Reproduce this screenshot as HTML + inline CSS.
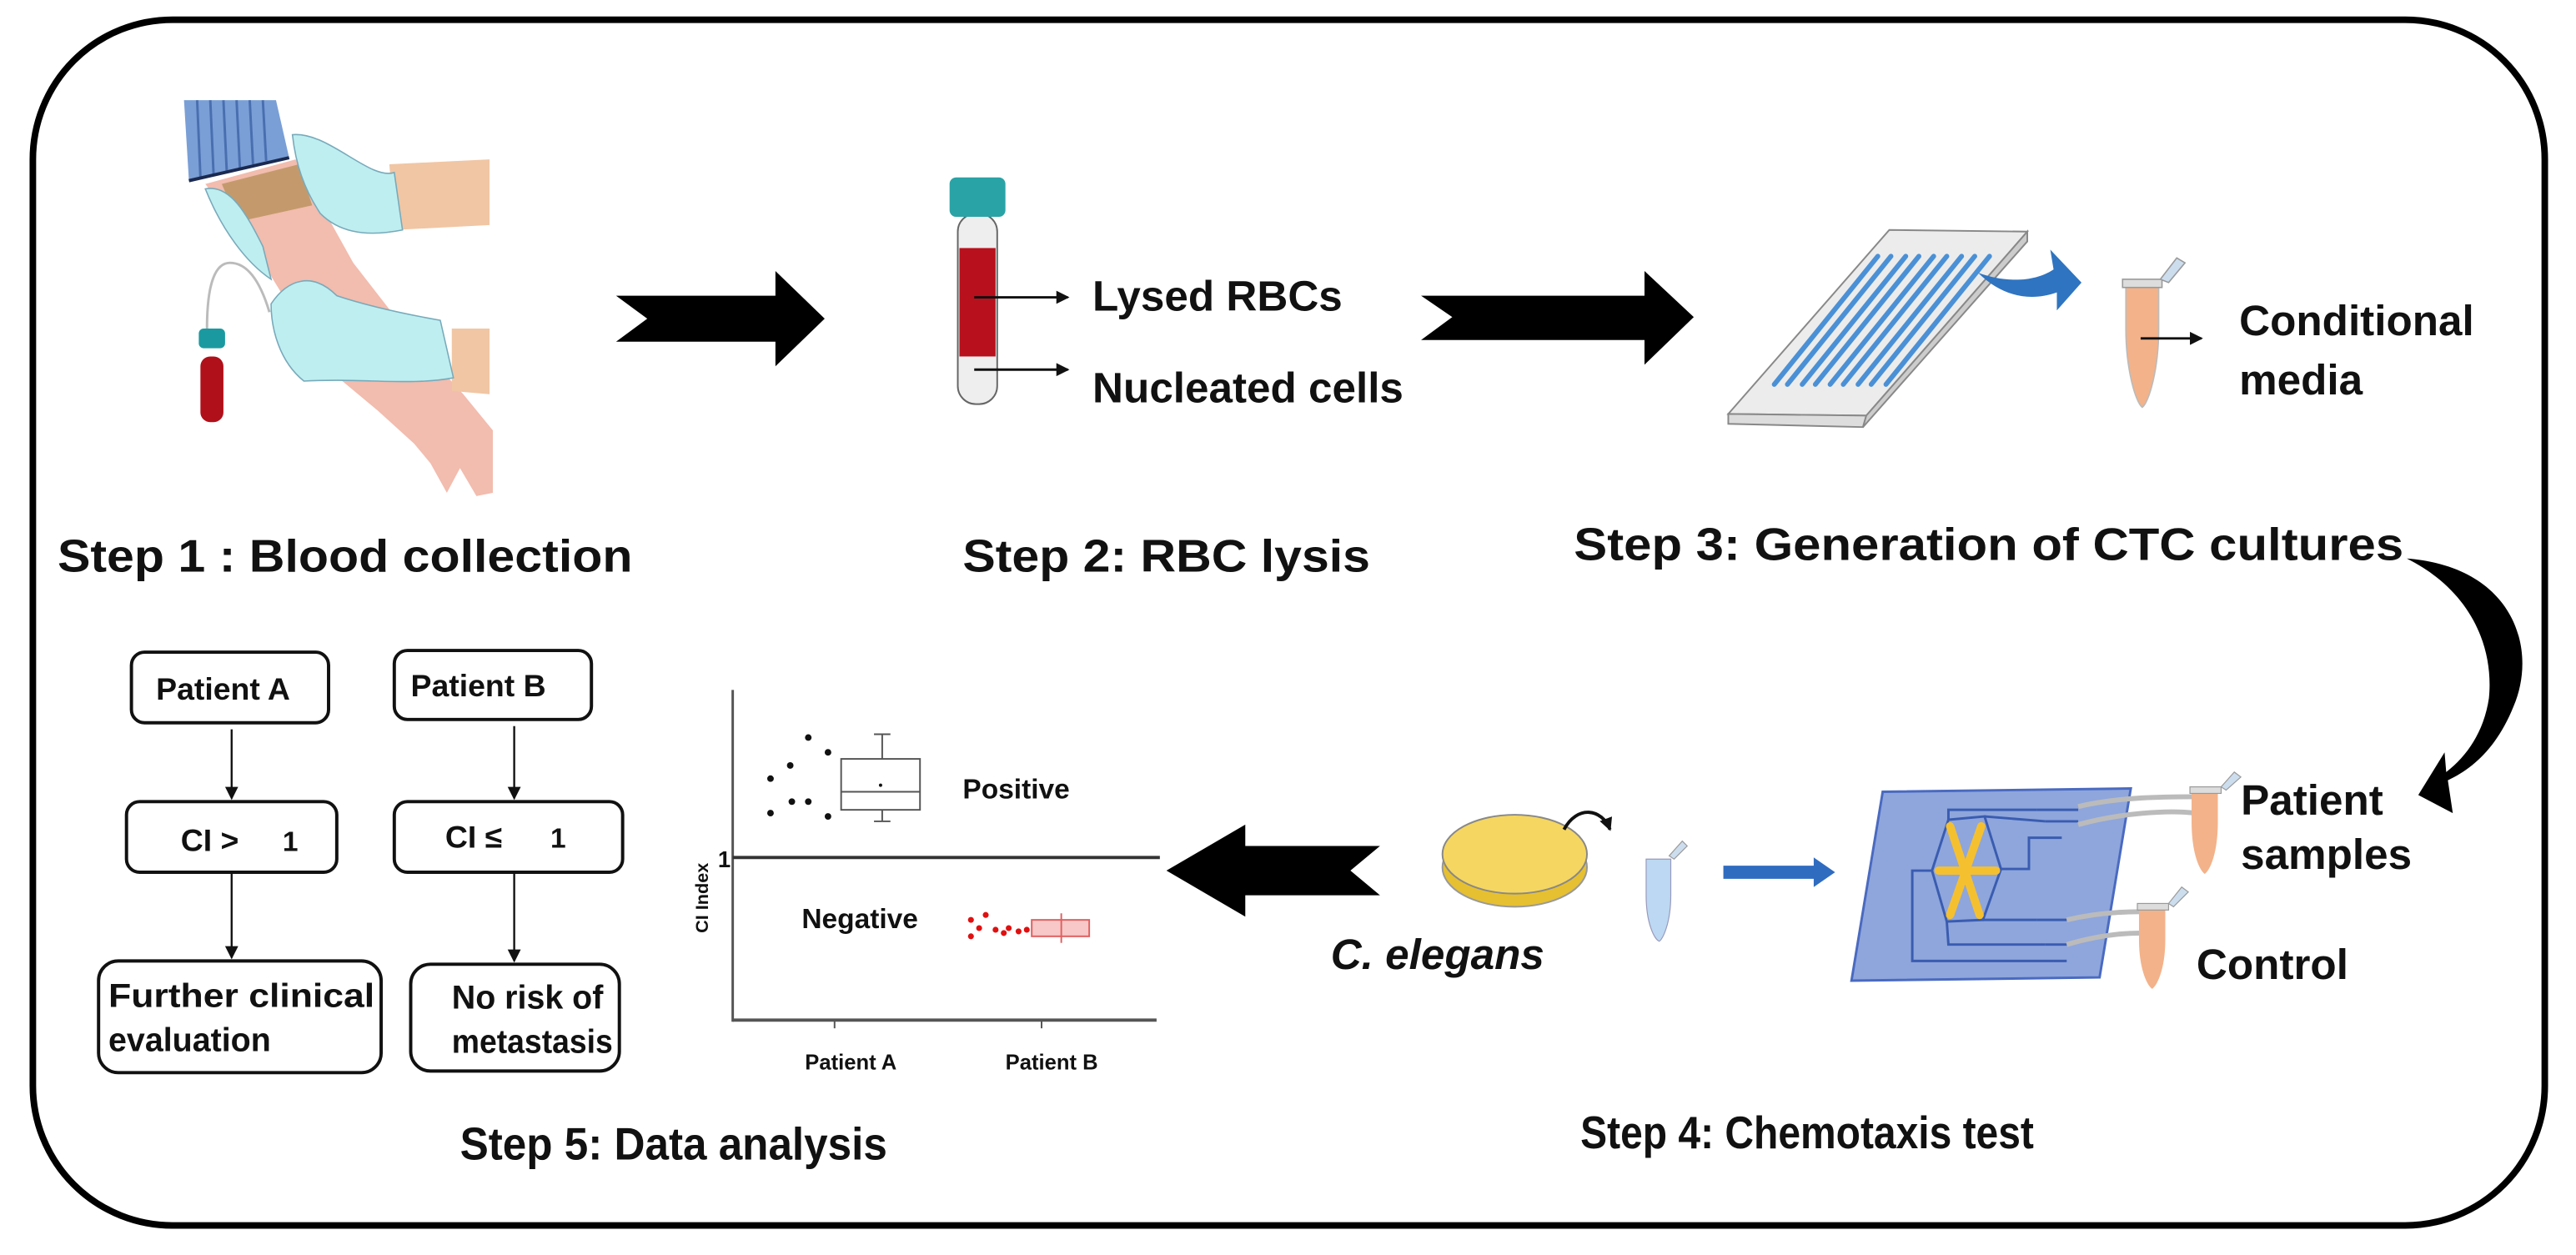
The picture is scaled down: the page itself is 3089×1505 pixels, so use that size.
<!DOCTYPE html>
<html><head><meta charset="utf-8"><style>
html,body{margin:0;padding:0;background:#fff}
svg{display:block}
text{font-family:"Liberation Sans",Arial,sans-serif;font-weight:bold;fill:#111}
</style></head><body>
<svg width="3089" height="1505" viewBox="0 0 1568 764" preserveAspectRatio="none" xmlns="http://www.w3.org/2000/svg">
<defs>
<marker id="ah" markerWidth="8" markerHeight="8" refX="7" refY="4" orient="auto" markerUnits="userSpaceOnUse"><path d="M0,0 L8,4 L0,8 z" fill="#111"/></marker>
</defs>
<rect x="20" y="12" width="1529" height="734" rx="85" ry="85" fill="none" stroke="#000" stroke-width="4"/>

<polygon points="112,61 168,61 176,96 115,110" fill="#7a9fd6"/>
<g stroke="#4a6fb0" stroke-width="1.5">
<line x1="120" y1="61" x2="122" y2="108"/><line x1="128" y1="61" x2="130" y2="106"/><line x1="136" y1="61" x2="138" y2="104"/><line x1="144" y1="61" x2="146" y2="102"/><line x1="152" y1="61" x2="154" y2="100"/><line x1="160" y1="61" x2="162" y2="98"/></g>
<line x1="115" y1="110" x2="176" y2="96" stroke="#1a2a50" stroke-width="2"/>
<polygon points="125,112 180,97 215,160 250,205 282,240 300,262 300,300 290,302 280,285 272,300 262,282 252,270 230,250 200,225 160,160" fill="#f2bcae"/>
<polygon points="135,112 182,100 190,125 145,135" fill="#c49a6c"/>
<polygon points="237,100 298,97 298,137 240,140" fill="#f1c6a4"/>
<polygon points="275,200 298,200 298,240 275,238" fill="#f1c6a4"/>
<path d="M178,82 C200,80 225,110 240,105 L245,140 C220,145 205,140 195,130 C185,115 180,100 178,82z" fill="#bfeef0" stroke="#7ab" stroke-width="0.8"/>
<path d="M125,115 C140,112 150,130 160,150 L165,170 C150,160 135,140 125,115z" fill="#bfeef0" stroke="#7ab" stroke-width="0.8"/>
<path d="M165,185 C175,170 190,165 205,180 C220,185 240,190 268,195 L276,230 C250,235 220,230 185,232 C170,220 165,200 165,185z" fill="#bfeef0" stroke="#7ab" stroke-width="0.8"/>
<path d="M126,200 C126,170 132,160 140,160 C150,160 158,170 164,190" fill="none" stroke="#bbb" stroke-width="1.5"/>
<rect x="121" y="200" width="16" height="12" rx="3" fill="#1a9aa0"/>
<rect x="122" y="217" width="14" height="40" rx="6" fill="#b0101a"/>

<polygon points="375,180 472,180 472,165 502,194 472,223 472,208 375,208 394,194" fill="#000"/>

<rect x="583" y="130" width="24" height="116" rx="11" fill="#eee" stroke="#666" stroke-width="1"/>
<rect x="584" y="151" width="22" height="66" fill="#b8101c"/>
<rect x="578" y="108" width="34" height="24" rx="4" fill="#2aa3a6"/>
<line x1="593" y1="181" x2="650" y2="181" stroke="#111" stroke-width="1.5" marker-end="url(#ah)"/>
<line x1="593" y1="225" x2="650" y2="225" stroke="#111" stroke-width="1.5" marker-end="url(#ah)"/>
<text x="665" y="189" font-size="26">Lysed RBCs</text>
<text x="665" y="245" font-size="26">Nucleated cells</text>

<text x="35" y="348" font-size="28" textLength="350" lengthAdjust="spacingAndGlyphs">Step 1 : Blood collection</text>
<text x="586" y="348" font-size="28" textLength="248" lengthAdjust="spacingAndGlyphs">Step 2: RBC lysis</text>
<text x="958" y="341" font-size="28" textLength="505" lengthAdjust="spacingAndGlyphs">Step 3: Generation of CTC cultures</text>

<polygon points="865,180 1001,180 1001,165 1031,193 1001,222 1001,207 865,207 884,193" fill="#000"/>

<polygon points="1052,252 1150,140 1234,141 1136,253" fill="#ececec" stroke="#888" stroke-width="1"/>
<polygon points="1052,252 1136,253 1134,260 1052,258" fill="#ddd" stroke="#888" stroke-width="1"/>
<polygon points="1136,253 1234,141 1234,147 1134,260" fill="#ccc" stroke="#888" stroke-width="1"/>
<g stroke="#4a90d6" stroke-width="3" stroke-linecap="round">
<line x1="1143" y1="156" x2="1080" y2="234"/><line x1="1151" y1="156" x2="1088" y2="234"/><line x1="1160" y1="156" x2="1097" y2="234"/><line x1="1168" y1="156" x2="1105" y2="234"/><line x1="1177" y1="156" x2="1114" y2="234"/><line x1="1185" y1="156" x2="1122" y2="234"/><line x1="1194" y1="156" x2="1131" y2="234"/><line x1="1202" y1="156" x2="1139" y2="234"/><line x1="1211" y1="156" x2="1148" y2="234"/></g>
<path d="M1204,166 C1220,172 1238,172 1250,164 L1248,152 L1267,172 L1252,189 L1252,178 C1235,184 1218,180 1204,166z" fill="#2f74c0"/>
<path d="M1294,174 L1314,174 L1314,200 C1314,225 1308,245 1304,248 C1300,245 1294,225 1294,200z" fill="#f3b28a" stroke="#bbb" stroke-width="0.8"/>
<rect x="1292" y="170" width="24" height="5" fill="#ddd" stroke="#999" stroke-width="0.8"/>
<polygon points="1315,170 1325,157 1330,160 1320,172" fill="#cde" stroke="#999" stroke-width="0.8"/>
<line x1="1303" y1="206" x2="1340" y2="206" stroke="#111" stroke-width="1.5" marker-end="url(#ah)"/>
<text x="1363" y="204" font-size="26">Conditional</text>
<text x="1363" y="240" font-size="26">media</text>

<path d="M1465,340 C1530,345 1545,395 1530,430 C1520,455 1505,468 1490,475 L1493,495 L1472,484 L1488,458 L1489,470 C1502,460 1512,445 1515,425 C1518,395 1505,360 1465,340z" fill="#000"/>

<polygon points="1146,482 1297,480 1278,595 1127,597" fill="#8ea6dc" stroke="#4a6ac0" stroke-width="1.5"/>
<g fill="none" stroke="#3a5cb0" stroke-width="1.5">
<polygon points="1176,530 1186,499 1208,497 1218,529 1207,560 1185,561"/>
<path d="M1186,499 V493 H1240 M1208,497 L1245,500 M1218,529 L1235,529 V510 H1255 M1207,560 H1240 M1185,561 L1186,575 H1245 M1176,530 L1164,530 V585 H1250"/>
<path d="M1240,493 H1265 M1245,500 H1265 M1240,560 H1258 M1245,575 H1258 M1250,585 H1258"/>
</g>
<g stroke="#f5c030" stroke-width="5" stroke-linecap="round">
<line x1="1180" y1="530" x2="1215" y2="530"/><line x1="1187" y1="503" x2="1205" y2="557"/><line x1="1206" y1="503" x2="1187" y2="557"/></g>
<path d="M1265,491 C1290,485 1320,485 1336,485" fill="none" stroke="#bbb" stroke-width="3"/>
<path d="M1265,502 C1290,495 1320,493 1336,495" fill="none" stroke="#bbb" stroke-width="3"/>
<path d="M1258,560 C1275,556 1290,555 1303,555" fill="none" stroke="#bbb" stroke-width="3"/>
<path d="M1258,575 C1275,570 1290,568 1303,568" fill="none" stroke="#bbb" stroke-width="3"/>
<path d="M1334,482 L1350,482 L1350,500 C1350,520 1345,530 1342,532 C1339,530 1334,520 1334,500z" fill="#f3b28a"/>
<rect x="1333" y="479" width="19" height="4" fill="#ddd" stroke="#999" stroke-width="0.6"/>
<polygon points="1352,479 1360,470 1364,473 1355,481" fill="#cde" stroke="#999" stroke-width="0.6"/>
<path d="M1302,553 L1318,553 L1318,572 C1318,590 1313,600 1310,602 C1307,600 1302,590 1302,572z" fill="#f3b28a"/>
<rect x="1301" y="550" width="19" height="4" fill="#ddd" stroke="#999" stroke-width="0.6"/>
<polygon points="1320,550 1328,540 1332,543 1323,552" fill="#cde" stroke="#999" stroke-width="0.6"/>
<text x="1364" y="496" font-size="26">Patient</text>
<text x="1364" y="529" font-size="26">samples</text>
<text x="1337" y="596" font-size="26">Control</text>
<text x="962" y="699" font-size="28" textLength="276" lengthAdjust="spacingAndGlyphs">Step 4: Chemotaxis test</text>

<ellipse cx="922" cy="528" rx="44" ry="24" fill="#e6c030" stroke="#999" stroke-width="1"/>
<ellipse cx="922" cy="520" rx="44" ry="24" fill="#f5d660" stroke="#888" stroke-width="1"/>
<path d="M952,505 C960,490 975,492 980,505" fill="none" stroke="#111" stroke-width="2" marker-end="url(#ah)"/>
<path d="M1002,523 L1017,523 L1017,545 C1017,562 1012,572 1010,573 C1007,572 1002,562 1002,545z" fill="#bcd8f2" stroke="#99b" stroke-width="0.6"/>
<polygon points="1016,521 1024,512 1027,515 1019,523" fill="#cde" stroke="#999" stroke-width="0.6"/>
<polygon points="1049,527 1104,527 1104,522 1117,531 1104,540 1104,535 1049,535" fill="#2f6cc0"/>
<text x="810" y="590" font-size="26" font-style="italic">C. elegans</text>
<polygon points="840,515 758,515 758,502 710,530 758,558 758,545 840,545 822,530" fill="#000"/>

<line x1="446" y1="420" x2="446" y2="622" stroke="#555" stroke-width="1.5"/>
<line x1="446" y1="621" x2="704" y2="621" stroke="#555" stroke-width="2"/>
<line x1="446" y1="522" x2="706" y2="522" stroke="#333" stroke-width="2"/>
<g stroke="#555" stroke-width="1"><line x1="508" y1="621" x2="508" y2="626"/><line x1="634" y1="621" x2="634" y2="626"/></g>
<text x="437" y="528" font-size="14">1</text>
<text transform="translate(431,568) rotate(-90)" font-size="11">CI Index</text>
<text x="490" y="651" font-size="13">Patient A</text>
<text x="612" y="651" font-size="13">Patient B</text>
<text x="586" y="486" font-size="17">Positive</text>
<text x="488" y="565" font-size="17">Negative</text>
<g stroke="#555" stroke-width="1" fill="none">
<rect x="512" y="462" width="48" height="31"/><line x1="512" y1="482" x2="560" y2="482"/>
<line x1="537" y1="447" x2="537" y2="462"/><line x1="532" y1="447" x2="542" y2="447"/>
<line x1="537" y1="493" x2="537" y2="500"/><line x1="532" y1="500" x2="542" y2="500"/></g>
<g fill="#111"><circle cx="469" cy="474" r="2"/><circle cx="481" cy="466" r="2"/><circle cx="492" cy="449" r="2"/><circle cx="504" cy="458" r="2"/><circle cx="469" cy="495" r="2"/><circle cx="482" cy="488" r="2"/><circle cx="492" cy="488" r="2"/><circle cx="504" cy="497" r="2"/><circle cx="536" cy="478" r="1"/></g>
<g fill="#e01010"><circle cx="591" cy="560" r="1.8"/><circle cx="596" cy="565" r="1.8"/><circle cx="600" cy="557" r="1.8"/><circle cx="591" cy="570" r="1.8"/><circle cx="606" cy="566" r="1.8"/><circle cx="611" cy="568" r="1.8"/><circle cx="614" cy="565" r="1.8"/><circle cx="620" cy="567" r="1.8"/><circle cx="625" cy="566" r="1.8"/></g>
<rect x="628" y="560" width="35" height="10" fill="#f8c8c8" stroke="#e06060" stroke-width="1"/>
<line x1="646" y1="556" x2="646" y2="574" stroke="#e06060" stroke-width="1"/>

<g fill="#fff" stroke="#111" stroke-width="2">
<rect x="80" y="397" width="120" height="43" rx="8"/>
<rect x="240" y="396" width="120" height="42" rx="8"/>
<rect x="77" y="488" width="128" height="43" rx="8"/>
<rect x="240" y="488" width="139" height="43" rx="8"/>
<rect x="60" y="585" width="172" height="68" rx="12"/>
<rect x="250" y="587" width="127" height="65" rx="12"/>
</g>
<g stroke="#111" stroke-width="1.2">
<line x1="141" y1="444" x2="141" y2="486" marker-end="url(#ah)"/>
<line x1="141" y1="531" x2="141" y2="583" marker-end="url(#ah)"/>
<line x1="313" y1="442" x2="313" y2="486" marker-end="url(#ah)"/>
<line x1="313" y1="531" x2="313" y2="585" marker-end="url(#ah)"/>
</g>
<text x="95" y="426" font-size="19">Patient A</text>
<text x="250" y="424" font-size="19">Patient B</text>
<text x="110" y="518" font-size="19">CI &gt;</text>
<text x="172" y="518" font-size="17">1</text>
<text x="271" y="516" font-size="19">CI ≤</text>
<text x="335" y="516" font-size="17">1</text>
<text x="66" y="613" font-size="20" textLength="162" lengthAdjust="spacingAndGlyphs">Further clinical</text>
<text x="66" y="640" font-size="20">evaluation</text>
<text x="275" y="614" font-size="20">No risk of</text>
<text x="275" y="641" font-size="20" textLength="98" lengthAdjust="spacingAndGlyphs">metastasis</text>
<text x="280" y="706" font-size="28" textLength="260" lengthAdjust="spacingAndGlyphs">Step 5: Data analysis</text>
</svg>
</body></html>
